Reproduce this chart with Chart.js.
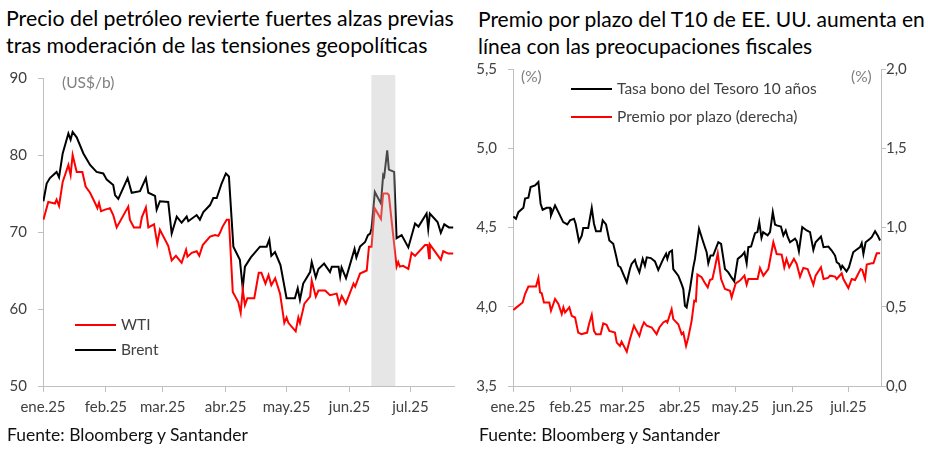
<!DOCTYPE html>
<html><head><meta charset="utf-8">
<script src="https://cdn.jsdelivr.net/npm/chart.js@4.4.1/dist/chart.umd.min.js"></script>
<style>
body{margin:0;width:928px;height:457px;background:#fff;overflow:hidden;font-family:Lato, sans-serif;position:relative}
.t{position:absolute;white-space:nowrap;font-size:20px;line-height:27px;color:#000}
.f{position:absolute;white-space:nowrap;font-size:16px;line-height:20px;color:#111}
canvas{position:absolute;top:60px}
</style></head><body>
<div class="t" id="t1a" style="left:6px;top:5px">Precio del petróleo revierte fuertes alzas previas</div>
<div class="t" id="t1b" style="left:6px;top:32px">tras moderación de las tensiones geopolíticas</div>
<div class="t" id="t2a" style="left:478px;top:5px">Premio por plazo del T10 de EE. UU. aumenta en</div>
<div class="t" id="t2b" style="left:478px;top:32px">línea con las preocupaciones fiscales</div>
<canvas id="c1" width="464" height="370" style="left:0"></canvas>
<canvas id="c2" width="464" height="370" style="left:464px"></canvas>
<div class="f" id="f1" style="left:7px;top:425px">Fuente: Bloomberg y Santander</div>
<div class="f" id="f2" style="left:479px;top:425px">Fuente: Bloomberg y Santander</div>
<script>
// ---- Data (x = days since 1 Jan 2025) ----
const monthTicks = [0, 31, 59, 90, 120, 151, 181];
const monthLabels = ['ene.25','feb.25','mar.25','abr.25','may.25','jun.25','jul.25'];

const brentDays = [0.2,1.8,3.4,6.7,7.9,9.7,12.5,13.6,14.6,16.6,19.9,23.2,26.4,29.7,31.4,34.6,35.5,37.1,41.7,43.7,47.8,50.7,51.9,55.2,56.0,57.6,61.7,63.4,65.9,68.3,70.8,71.6,75.7,77.3,79.0,82.3,83.9,85.6,88.0,90.1,91.6,93.8,97.0,98.4,99.5,102.4,106.9,110.2,111.5,112.5,114.3,117.0,120.0,124.1,125.5,126.6,128.2,131.6,132.4,134.4,135.7,138.5,141.4,142.3,145.6,146.4,147.1,149.3,153.5,154.4,156.2,158.7,160.1,161.2,161.9,163.5,166.5,167.6,168.1,169.6,170.4,173.0,174.2,176.7,180.0,183.3,185.0,189.0,189.8,190.6,194.4,196.0,197.7,200.0,202.1];
const brentValues = [74.0,76.3,77.0,77.8,77.1,80.2,82.8,82.0,83.0,82.3,80.2,78.7,77.8,77.6,76.8,76.1,74.8,74.3,77.0,75.1,75.3,77.0,75.1,74.7,72.9,74.0,73.9,69.8,72.0,71.2,72.0,71.4,72.2,71.6,72.6,73.5,74.4,74.4,76.3,77.6,77.2,68.1,66.4,62.7,65.5,66.7,68.1,68.1,69.0,66.9,67.4,65.7,61.4,61.4,62.7,61.2,63.3,64.8,66.1,64.1,65.2,65.9,64.8,65.5,65.5,64.2,65.4,64.0,67.8,66.7,68.1,68.7,69.6,69.8,70.5,75.2,73.7,77.4,77.2,80.6,78.1,77.8,69.2,69.6,68.0,71.1,70.7,72.4,70.4,72.4,71.3,69.9,71.0,70.6,70.6];

const wtiDays = [0.2,2.6,4.3,5.9,6.7,7.9,9.7,12.5,13.6,14.6,16.6,19.4,21.0,23.2,25.6,26.8,27.6,28.6,30.6,33.0,34.6,36.3,42.0,42.8,44.8,47.8,48.7,50.7,51.9,54.7,56.3,57.6,61.7,63.4,65.5,68.3,70.5,71.2,73.3,75.7,77.0,78.7,82.3,84.8,86.4,87.2,88.5,90.5,91.6,93.5,96.2,97.4,98.4,99.5,100.7,104.1,106.3,107.6,109.6,111.1,112.5,114.4,116.8,118.9,120.0,120.9,124.5,125.8,126.6,128.8,131.6,132.4,134.4,135.7,139.0,141.4,144.7,145.9,147.2,149.2,153.0,153.8,156.2,159.5,160.6,161.9,163.4,166.5,167.6,169.7,170.4,174.2,175.0,175.8,177.4,180.0,181.6,183.3,188.2,189.5,190.2,190.6,194.4,196.0,197.2,199.7,202.1];
const wtiValues = [71.6,73.9,73.8,73.7,74.2,73.4,76.5,78.7,77.4,80.0,77.8,77.8,75.9,75.1,73.8,73.1,73.8,72.7,72.9,73.1,72.2,70.6,73.3,71.6,70.6,70.6,71.9,73.2,70.6,71.0,68.5,70.3,68.2,66.3,66.9,66.0,67.7,66.8,67.3,67.5,66.9,68.3,69.4,69.6,69.5,69.9,70.7,71.6,71.6,62.2,60.9,59.5,62.5,60.5,61.4,61.4,64.7,64.7,63.3,64.4,63.1,64.0,62.0,58.2,58.9,58.2,57.1,58.9,58.2,60.7,61.6,63.7,61.6,62.4,62.4,61.8,62.0,60.7,61.7,60.7,63.3,62.9,64.6,65.0,68.1,68.1,73.1,71.7,75.0,75.0,74.8,65.5,66.1,65.5,65.6,65.2,67.3,66.9,68.3,68.3,66.6,68.4,67.0,66.4,67.5,67.2,67.2];

const shadeStart = 161.8, shadeEnd = 173.6;

const t10Days = [0.2,1.6,2.9,5.6,6.5,8.3,9.5,11.9,13.7,14.9,16.0,18.2,20.0,20.5,22.7,24.5,27.1,29.3,30.8,32.9,33.8,35.6,37.1,37.9,40.6,42.5,43.7,44.8,47.3,48.4,50.2,52.0,54.1,55.6,56.8,58.0,61.4,63.1,64.0,65.8,66.7,68.2,70.0,71.2,72.2,74.4,76.6,78.4,81.1,82.6,83.3,84.4,85.8,86.5,89.2,91.0,91.9,92.8,93.7,95.5,97.3,98.2,100.4,102.7,104.5,105.4,106.6,108.0,110.8,112.3,114.4,116.2,117.9,119.4,121.3,123.5,124.9,126.1,127.0,128.5,130.6,131.9,132.9,134.1,135.0,137.4,138.7,140.2,141.4,142.3,144.6,145.9,147.2,148.3,149.5,152.2,153.1,154.3,156.1,158.5,160.3,162.1,163.3,166.2,167.6,170.2,172.0,173.8,174.7,176.0,177.0,177.7,180.0,181.3,183.6,184.8,187.3,188.2,189.1,190.3,192.7,193.6,195.4,196.8,198.1];
const t10Values = [4.570,4.555,4.597,4.624,4.682,4.688,4.755,4.766,4.787,4.650,4.612,4.624,4.624,4.576,4.639,4.597,4.534,4.519,4.545,4.555,4.524,4.413,4.449,4.497,4.497,4.624,4.524,4.477,4.477,4.545,4.519,4.418,4.397,4.323,4.259,4.249,4.154,4.238,4.270,4.296,4.259,4.217,4.302,4.259,4.312,4.307,4.286,4.232,4.302,4.334,4.302,4.344,4.355,4.238,4.196,4.143,4.112,4.006,3.996,4.112,4.250,4.302,4.492,4.407,4.344,4.274,4.323,4.323,4.407,4.397,4.238,4.217,4.185,4.160,4.302,4.323,4.344,4.274,4.376,4.380,4.464,4.471,4.534,4.435,4.471,4.450,4.471,4.597,4.519,4.513,4.506,4.450,4.481,4.439,4.407,4.429,4.414,4.350,4.502,4.481,4.471,4.359,4.407,4.443,4.376,4.380,4.355,4.323,4.281,4.270,4.238,4.259,4.223,4.249,4.344,4.355,4.376,4.401,4.334,4.407,4.429,4.439,4.477,4.450,4.418];

const premDays = [0.2,1.9,5.2,6.5,8.3,12.4,13.7,14.6,15.5,16.7,19.6,20.5,22.7,24.5,26.3,27.2,28.1,30.4,31.7,33.5,35.2,37.0,40.0,41.0,42.5,43.7,44.8,47.3,48.7,50.5,52.0,55.0,56.0,57.7,58.6,61.4,63.1,65.3,66.7,68.2,69.5,70.7,72.2,74.9,77.5,79.0,81.1,82.6,83.3,85.6,86.5,89.2,91.0,91.9,93.4,94.6,96.4,97.8,98.7,99.5,101.8,103.3,105.1,106.3,107.6,109.0,110.5,112.3,114.4,117.1,118.0,120.2,122.5,124.9,126.1,127.0,132.0,133.3,135.1,137.8,140.5,142.3,145.0,146.4,147.6,149.1,151.6,153.1,154.9,156.7,159.0,162.1,163.3,166.2,167.6,170.0,171.1,173.8,174.7,177.4,178.3,181.0,182.8,184.6,187.6,188.5,190.0,190.9,193.6,194.5,196.3,198.1];
const premValues = [0.479,0.496,0.527,0.580,0.627,0.627,0.682,0.591,0.585,0.527,0.527,0.475,0.549,0.517,0.454,0.496,0.464,0.496,0.443,0.432,0.337,0.327,0.337,0.390,0.449,0.348,0.327,0.327,0.395,0.386,0.348,0.337,0.274,0.253,0.280,0.217,0.295,0.380,0.348,0.316,0.369,0.401,0.380,0.369,0.327,0.369,0.401,0.411,0.401,0.485,0.422,0.390,0.327,0.337,0.253,0.306,0.411,0.538,0.534,0.703,0.686,0.654,0.622,0.669,0.675,0.749,0.837,0.675,0.612,0.601,0.559,0.648,0.665,0.696,0.639,0.675,0.675,0.745,0.696,0.738,0.907,0.833,0.829,0.749,0.802,0.749,0.802,0.770,0.690,0.745,0.738,0.639,0.696,0.749,0.675,0.682,0.696,0.690,0.675,0.711,0.675,0.618,0.675,0.669,0.738,0.732,0.675,0.766,0.774,0.774,0.837,0.837];

// ---- helpers ----
function fitText(id, target){
  const el = document.getElementById(id);
  const w = el.getBoundingClientRect().width;
  const fs = parseFloat(getComputedStyle(el).fontSize);
  return fs * target / w;
}
const tfs1 = fitText('t1a', 448);
['t1a','t1b'].forEach(id => document.getElementById(id).style.fontSize = tfs1 + 'px');
const tfs2 = fitText('t2a', 447);
['t2a','t2b'].forEach(id => document.getElementById(id).style.fontSize = tfs2 + 'px');
const ffs = fitText('f1', 241);
['f1','f2'].forEach(id => document.getElementById(id).style.fontSize = ffs + 'px');

const pts = (d, v) => d.map((x, i) => ({x, y: v[i]}));
const GRID = '#bfbfbf', TXT = '#404040', FONT = 'Lato';
const comma = v => Number(v).toFixed(1).replace('.', ',');

function xScale(max){
  return {
    type: 'linear', min: 0, max: max,
    afterBuildTicks: s => { s.ticks = monthTicks.map(v => ({value: v})); },
    ticks: {callback: (v, i) => monthLabels[i], color: TXT, font: {family: FONT, size: 15}, padding: 6, maxRotation: 0, autoSkip: false},
    grid: {drawOnChartArea: false, drawTicks: true, tickLength: 6, color: GRID},
    border: {color: GRID},
    afterFit: s => { s.height = 44; }
  };
}
function yScale(min, max, step, pos, width, pad, fmt){
  return {
    type: 'linear', min, max, position: pos,
    ticks: {stepSize: step, color: TXT, font: {family: FONT, size: 15}, padding: pad, callback: fmt},
    grid: {drawOnChartArea: false, drawTicks: true, tickLength: 5, color: GRID},
    border: {color: GRID},
    afterFit: s => { s.width = width; s.paddingTop = 0; s.paddingBottom = 0; }
  };
}
function legendPlugin(items, units){
  return {id: 'customLegend', afterDraw(chart){
    const ctx = chart.ctx;
    ctx.save();
    ctx.font = '15.5px ' + FONT;
    ctx.textBaseline = 'middle';
    items.forEach(it => {
      ctx.strokeStyle = it.color; ctx.lineWidth = 2;
      ctx.beginPath(); ctx.moveTo(it.x, it.y); ctx.lineTo(it.x + 41, it.y); ctx.stroke();
      ctx.fillStyle = TXT; ctx.fillText(it.label, it.x + 46, it.y);
    });
    ctx.fillStyle = '#808080';
    units.forEach(u => ctx.fillText(u.text, u.x, u.y));
    ctx.restore();
  }};
}
const shadePlugin = {id: 'shade', afterDatasetsDraw(chart){
  const {ctx, chartArea: a, scales: {x}} = chart;
  const x0 = x.getPixelForValue(shadeStart), x1 = x.getPixelForValue(shadeEnd);
  ctx.save();
  ctx.fillStyle = 'rgba(190,190,190,0.38)';
  ctx.fillRect(x0, a.top - 3, x1 - x0, a.bottom - a.top + 3);
  ctx.restore();
}};

const common = {
  responsive: false, animation: false, devicePixelRatio: 1,
  plugins: {legend: {display: false}, tooltip: {enabled: false}},
  elements: {point: {radius: 0}, line: {tension: 0, borderWidth: 2}}
};

new Chart(document.getElementById('c1'), {
  type: 'line',
  data: {datasets: [
    {label: 'WTI', data: pts(wtiDays, wtiValues), borderColor: '#ff0000'},
    {label: 'Brent', data: pts(brentDays, brentValues), borderColor: '#000000'}
  ]},
  options: Object.assign({}, common, {
    layout: {padding: {left: 0, right: 10, top: 18, bottom: 0}},
    scales: {x: xScale(202.5), y: yScale(50, 90, 10, 'left', 43, 11)}
  }),
  plugins: [shadePlugin, legendPlugin(
    [{label: 'WTI', color: '#ff0000', x: 75, y: 265}, {label: 'Brent', color: '#000000', x: 75, y: 290}],
    [{text: '(US$/b)', x: 62, y: 23}])]
});

new Chart(document.getElementById('c2'), {
  type: 'line',
  data: {datasets: [
    {label: 'Tasa bono del Tesoro 10 años', data: pts(t10Days, t10Values), borderColor: '#000000', yAxisID: 'y'},
    {label: 'Premio por plazo (derecha)', data: pts(premDays, premValues), borderColor: '#ff0000', yAxisID: 'y1'}
  ]},
  options: Object.assign({}, common, {
    layout: {padding: {left: 0, right: 0, top: 9, bottom: 0}},
    scales: {
      x: xScale(198.6),
      y: yScale(3.5, 5.5, 0.5, 'left', 49, 11, comma),
      y1: yScale(0, 2, 0.5, 'right', 47, 0, comma)
    }
  }),
  plugins: [legendPlugin(
    [{label: 'Tasa bono del Tesoro 10 años', color: '#000000', x: 107, y: 29}, {label: 'Premio por plazo (derecha)', color: '#ff0000', x: 107, y: 57}],
    [{text: '(%)', x: 57, y: 17}, {text: '(%)', x: 387, y: 17}])]
});
</script>
</body></html>
